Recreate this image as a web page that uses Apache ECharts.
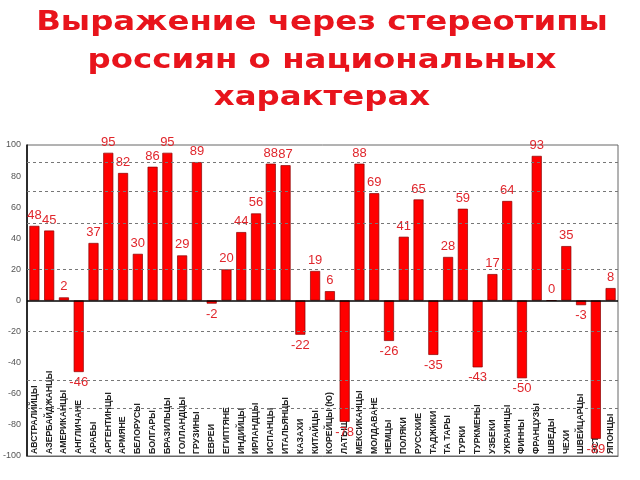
<!DOCTYPE html>
<html><head><meta charset="utf-8">
<script src="https://cdn.jsdelivr.net/npm/echarts@6/dist/echarts.min.js"></script>
<style>html,body{margin:0;padding:0;background:#fff}#c{width:640px;height:480px}</style>
</head><body><div id="c"></div>
<script>
var categories = ["АВСТРАЛИЙЦЫ","АЗЕРБАЙДЖАНЦЫ","АМЕРИКАНЦЫ","АНГЛИЧАНЕ","АРАБЫ","АРГЕНТИНЦЫ","АРМЯНЕ","БЕЛОРУСЫ","БОЛГАРЫ","БРАЗИЛЬЦЫ","ГОЛЛАНДЦЫ","ГРУЗИНЫ","ЕВРЕИ","ЕГИПТЯНЕ","ИНДИЙЦЫ","ИРЛАНДЦЫ","ИСПАНЦЫ","ИТАЛЬЯНЦЫ","КАЗАХИ","КИТАЙЦЫ","КОРЕЙЦЫ (Ю)","ЛАТЫШИ","МЕКСИКАНЦЫ","МОЛДАВАНЕ","НЕМЦЫ","ПОЛЯКИ","РУССКИЕ","ТАДЖИКИ","ТА ТАРЫ","ТУРКИ","ТУРКМЕНЫ","УЗБЕКИ","УКРАИНЦЫ","ФИННЫ","ФРАНЦУЗЫ","ШВЕДЫ","ЧЕХИ","ШВЕЙЦАРЦЫ","ЭСТОНЦЫ","ЯПОНЦЫ"];
var values = [48,45,2,-46,37,95,82,30,86,95,29,89,-2,20,44,56,88,87,-22,19,6,-78,88,69,-26,41,65,-35,28,59,-43,17,64,-50,93,0,35,-3,-89,8];
var gridLevels = [89,70,50,20,-20,-51,-69];
var titleLines = ["Выражение через стереотипы","россиян о национальных","характерах"];

var chart = echarts.init(document.getElementById('c'), null, {renderer:'canvas'});
var data = values.map(function(v){
  return {value: v, label: {position: v < 0 ? 'bottom' : 'top'}};
});
var markData = gridLevels.map(function(v){ return {yAxis: v}; });
var titleGraphics = titleLines.map(function(t, i){
  return {
    type: 'text', x: 322, y: 23 + i * 37.5, scaleX: 1.2,
    style: {text: t, align: 'center', verticalAlign: 'middle', fill: '#e8141c',
            font: 'bold 27px "DejaVu Sans"'}
  };
});
chart.setOption({
  animation: false,
  graphic: titleGraphics,
  grid: {left: 27, right: 22, top: 145, bottom: 24, show: true, borderColor: '#666', borderWidth: 1},
  xAxis: {
    type: 'category', data: categories,
    axisLine: {onZero: false, lineStyle: {color: '#666'}},
    axisTick: {show: false},
    axisLabel: {inside: true, rotate: 90, interval: 0, fontSize: 8.7, fontWeight: 'bold', color: '#222', fontFamily: 'Liberation Sans', margin: 2}
  },
  yAxis: {
    type: 'value', min: -100, max: 100, interval: 20,
    axisLine: {show: true, lineStyle: {color: '#000', width: 1.5}},
    axisTick: {show: false},
    splitLine: {show: false},
    axisLabel: {fontSize: 9, color: '#555', fontFamily: 'Liberation Sans', margin: 6}
  },
  series: [{
    type: 'bar', data: data, barWidth: '68%',
    itemStyle: {color: '#ff0000', borderColor: '#8b0000', borderWidth: 0.7},
    label: {show: true, color: '#e0262c', fontSize: 13, fontFamily: 'Liberation Sans', distance: 4},
    markLine: {
      silent: true, symbol: 'none', label: {show: false},
      lineStyle: {color: '#777', type: [3, 3], width: 1},
      data: markData.concat([{yAxis: 0, lineStyle: {color: '#000', type: 'solid', width: 1.5}}])
    }
  }]
});
</script></body></html>
